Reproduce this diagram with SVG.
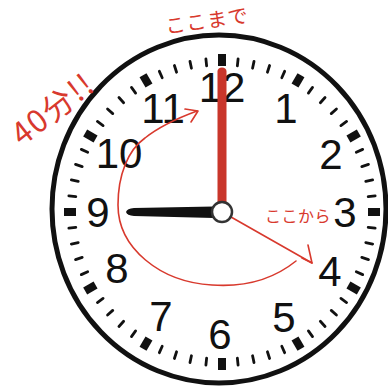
<svg xmlns="http://www.w3.org/2000/svg" width="388" height="390" viewBox="0 0 388 390">
<style>
.num{font-family:"Liberation Sans","Noto Sans",Arial,sans-serif;font-size:42px;fill:#111;text-anchor:middle}
.mt{stroke:#111;stroke-width:2.8;stroke-linecap:round}
.hm{fill:#111}
.ann{font-family:"Noto Sans CJK JP","Noto Sans",sans-serif;fill:#d8392d}
.red{stroke:#d8392d;stroke-width:1.6;fill:none;stroke-linecap:round;stroke-linejoin:round}
</style>
<defs>
<line id="mt" class="mt" x1="222" y1="58" x2="222" y2="65"/>
<rect id="hm" class="hm" x="218" y="54" width="8" height="12"/>
</defs>
<rect width="388" height="390" fill="#fff"/>
<g id="clock-face">
<ellipse cx="219" cy="209" rx="167" ry="174" fill="#fff" stroke="#111" stroke-width="5"/>
</g>
<g id="ticks">
<use href="#hm" transform="rotate(0 222 212)"/>
<use href="#mt" transform="rotate(6 222 212)"/>
<use href="#mt" transform="rotate(12 222 212)"/>
<use href="#mt" transform="rotate(18 222 212)"/>
<use href="#mt" transform="rotate(24 222 212)"/>
<use href="#hm" transform="rotate(30 222 212)"/>
<use href="#mt" transform="rotate(36 222 212)"/>
<use href="#mt" transform="rotate(42 222 212)"/>
<use href="#mt" transform="rotate(48 222 212)"/>
<use href="#mt" transform="rotate(54 222 212)"/>
<use href="#hm" transform="rotate(60 222 212)"/>
<use href="#mt" transform="rotate(66 222 212)"/>
<use href="#mt" transform="rotate(72 222 212)"/>
<use href="#mt" transform="rotate(78 222 212)"/>
<use href="#mt" transform="rotate(84 222 212)"/>
<use href="#hm" transform="rotate(90 222 212)"/>
<use href="#mt" transform="rotate(96 222 212)"/>
<use href="#mt" transform="rotate(102 222 212)"/>
<use href="#mt" transform="rotate(108 222 212)"/>
<use href="#mt" transform="rotate(114 222 212)"/>
<use href="#hm" transform="rotate(120 222 212)"/>
<use href="#mt" transform="rotate(126 222 212)"/>
<use href="#mt" transform="rotate(132 222 212)"/>
<use href="#mt" transform="rotate(138 222 212)"/>
<use href="#mt" transform="rotate(144 222 212)"/>
<use href="#hm" transform="rotate(150 222 212)"/>
<use href="#mt" transform="rotate(156 222 212)"/>
<use href="#mt" transform="rotate(162 222 212)"/>
<use href="#mt" transform="rotate(168 222 212)"/>
<use href="#mt" transform="rotate(174 222 212)"/>
<use href="#hm" transform="rotate(180 222 212)"/>
<use href="#mt" transform="rotate(186 222 212)"/>
<use href="#mt" transform="rotate(192 222 212)"/>
<use href="#mt" transform="rotate(198 222 212)"/>
<use href="#mt" transform="rotate(204 222 212)"/>
<use href="#hm" transform="rotate(210 222 212)"/>
<use href="#mt" transform="rotate(216 222 212)"/>
<use href="#mt" transform="rotate(222 222 212)"/>
<use href="#mt" transform="rotate(228 222 212)"/>
<use href="#mt" transform="rotate(234 222 212)"/>
<use href="#hm" transform="rotate(240 222 212)"/>
<use href="#mt" transform="rotate(246 222 212)"/>
<use href="#mt" transform="rotate(252 222 212)"/>
<use href="#mt" transform="rotate(258 222 212)"/>
<use href="#mt" transform="rotate(264 222 212)"/>
<use href="#hm" transform="rotate(270 222 212)"/>
<use href="#mt" transform="rotate(276 222 212)"/>
<use href="#mt" transform="rotate(282 222 212)"/>
<use href="#mt" transform="rotate(288 222 212)"/>
<use href="#mt" transform="rotate(294 222 212)"/>
<use href="#hm" transform="rotate(300 222 212)"/>
<use href="#mt" transform="rotate(306 222 212)"/>
<use href="#mt" transform="rotate(312 222 212)"/>
<use href="#mt" transform="rotate(318 222 212)"/>
<use href="#mt" transform="rotate(324 222 212)"/>
<use href="#hm" transform="rotate(330 222 212)"/>
<use href="#mt" transform="rotate(336 222 212)"/>
<use href="#mt" transform="rotate(342 222 212)"/>
<use href="#mt" transform="rotate(348 222 212)"/>
<use href="#mt" transform="rotate(354 222 212)"/>
</g>
<g id="numerals">
<text class="num" x="222" y="102">12</text>
<text class="num" x="163" y="123">11</text>
<text class="num" x="286" y="123">1</text>
<text class="num" x="119" y="168">10</text>
<text class="num" x="331" y="169">2</text>
<text class="num" x="98" y="227">9</text>
<text class="num" x="345" y="227">3</text>
<text class="num" x="117" y="283">8</text>
<text class="num" x="330" y="286">4</text>
<text class="num" x="161" y="331">7</text>
<text class="num" x="284" y="332">5</text>
<text class="num" x="220" y="349">6</text>
</g>
<g id="connectors">
<path class="red" d="M296 261 C 270 282 240 287 212 285 C 160 282 118 248 118 205 C 118 175 128 150 145 138 C 160 126 178 118 197 111"/>
<path class="red" d="M185 109 L198 111 L191 122"/>
<path class="red" d="M231 217 L312 263"/>
<path class="red" d="M308 245 L312 263 L302 258"/>
</g>
<g id="hour-hand">
<path d="M126 212 Q127 208.5 134 208 L214 206.5 L214 218 L134 216 Q127 215.5 126 212 Z" fill="#111"/>
</g>
<g id="minute-hand">
<path d="M217.5 212 L217.5 71 Q218 67.5 222 67.5 Q226 67.5 226.5 71 L226.5 212 Z" fill="#c9362b"/>
</g>
<g id="hub">
<circle cx="222" cy="212" r="10" fill="#fff" stroke="#333" stroke-width="2.5"/>
</g>
<g id="annotations">
<text class="ann" x="207" y="28" font-size="20" letter-spacing="1" text-anchor="middle" transform="rotate(-8 207 21)">ここまで</text>
<text class="ann" x="298" y="222" font-size="16" letter-spacing="0.5" text-anchor="middle">ここから</text>
<text class="ann" x="53" y="120" font-size="31" letter-spacing="2" text-anchor="middle" transform="rotate(-38 53 109)">40分!!</text>
</g>
</svg>
